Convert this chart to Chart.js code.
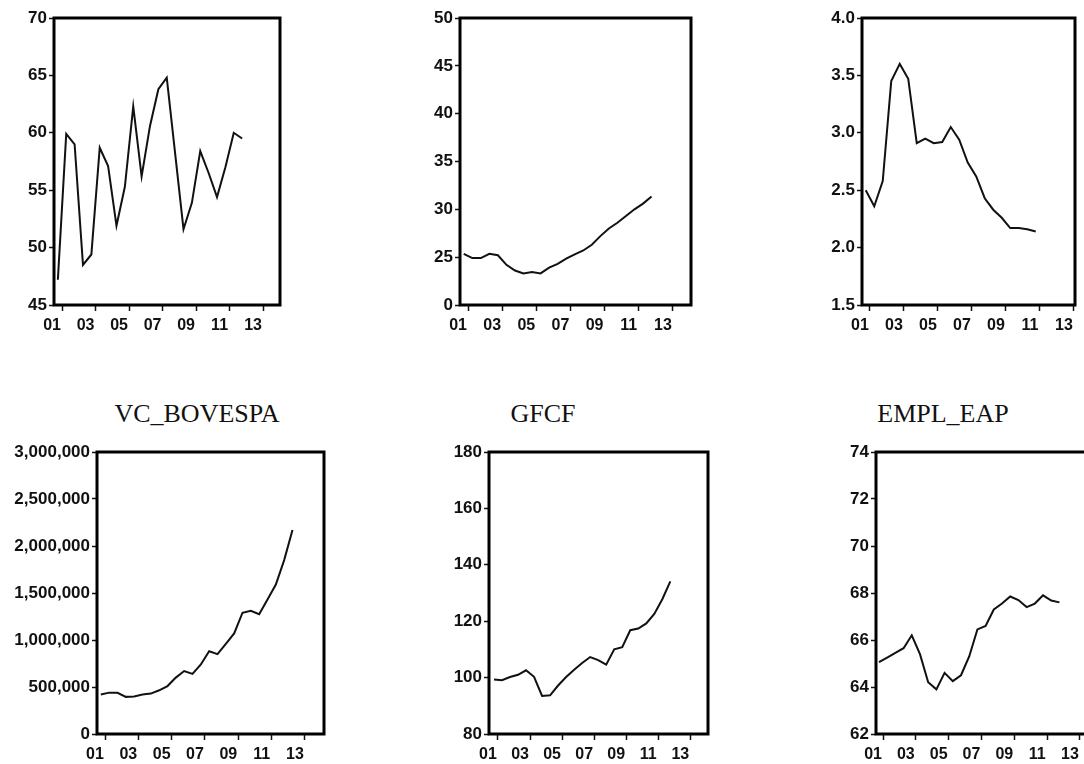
<!DOCTYPE html>
<html><head><meta charset="utf-8">
<script src="https://cdn.jsdelivr.net/npm/chart.js@4.4.1/dist/chart.umd.min.js"></script>
<style>
html,body{margin:0;padding:0;background:#fff;width:1084px;height:764px;overflow:hidden;position:relative}
canvas{position:absolute}
.title{position:absolute;font-family:"Liberation Serif","Times New Roman",serif;font-size:26px;line-height:26px;color:#111;white-space:nowrap;transform:translateX(-50%)}
</style></head><body>
<div class="title" style="left:197px;top:401px">VC_BOVESPA</div>
<div class="title" style="left:543px;top:401px">GFCF</div>
<div class="title" style="left:943px;top:401px">EMPL_EAP</div>
<script>
// ---- data ----
const dates = [2000.75, 2001.25, 2001.75, 2002.25, 2002.75, 2003.25, 2003.75, 2004.25, 2004.75, 2005.25, 2005.75, 2006.25, 2006.75, 2007.25, 2007.75, 2008.25, 2008.75, 2009.25, 2009.75, 2010.25, 2010.75, 2011.25, 2011.75, 2012.25];
const xTickValues = [2001, 2003, 2005, 2007, 2009, 2011, 2013];
const xTickLabels = ['01', '03', '05', '07', '09', '11', '13'];

const topLeftValues = [47.2, 59.9, 59.0, 48.5, 49.4, 58.7, 57.1, 51.9, 55.3, 62.3, 56.2, 60.6, 63.8, 64.8, 58.2, 51.6, 53.9, 58.4, 56.5, 54.4, 57.0, 60.0, 59.5];
const topMidValues = [25.35, 24.9, 24.9, 25.35, 25.2, 24.2, 23.6, 23.3, 23.45, 23.3, 23.9, 24.3, 24.85, 25.3, 25.7, 26.3, 27.2, 28.0, 28.6, 29.3, 30.0, 30.6, 31.35];
const topRightValues = [2.50, 2.36, 2.58, 3.45, 3.60, 3.47, 2.91, 2.95, 2.91, 2.92, 3.05, 2.94, 2.74, 2.62, 2.43, 2.33, 2.26, 2.17, 2.17, 2.16, 2.14];
const vcBovespaValues = [420000, 440000, 438000, 395000, 400000, 420000, 430000, 465000, 510000, 600000, 670000, 640000, 740000, 880000, 850000, 960000, 1070000, 1290000, 1310000, 1275000, 1430000, 1590000, 1850000, 2170000];
const gfcfValues = [99.3, 99.1, 100.2, 101.0, 102.6, 100.3, 93.5, 93.7, 97.2, 100.2, 102.8, 105.2, 107.3, 106.2, 104.6, 110.0, 110.8, 116.8, 117.4, 119.2, 122.6, 127.8, 134.1];
const emplEapValues = [65.06, 65.25, 65.45, 65.65, 66.2, 65.4, 64.2, 63.9, 64.6, 64.25, 64.5, 65.3, 66.45, 66.6, 67.3, 67.55, 67.85, 67.7, 67.4, 67.55, 67.9, 67.68, 67.6];

const topLeftTicks = [45, 50, 55, 60, 65, 70];
const topLeftTickLabels = ['45', '50', '55', '60', '65', '70'];
const topMidTicks = [20, 25, 30, 35, 40, 45, 50];
const topMidTickLabels = ['0', '25', '30', '35', '40', '45', '50'];
const topRightTicks = [1.5, 2.0, 2.5, 3.0, 3.5, 4.0];
const topRightTickLabels = ['1.5', '2.0', '2.5', '3.0', '3.5', '4.0'];
const vcBovespaTicks = [0, 500000, 1000000, 1500000, 2000000, 2500000, 3000000];
const vcBovespaTickLabels = ['0', '500,000', '1,000,000', '1,500,000', '2,000,000', '2,500,000', '3,000,000'];
const gfcfTicks = [80, 100, 120, 140, 160, 180];
const gfcfTickLabels = ['80', '100', '120', '140', '160', '180'];
const emplEapTicks = [62, 64, 66, 68, 70, 72, 74];
const emplEapTickLabels = ['62', '64', '66', '68', '70', '72', '74'];

// ---- layout ----
const panels = [
  {values: topLeftValues, yT: topLeftTicks, yL: topLeftTickLabels, box: [54, 18, 280, 305], yW: 54, xr: [2000.52, 2014.01]},
  {values: topMidValues, yT: topMidTicks, yL: topMidTickLabels, box: [460, 18, 691, 305], yW: 60, xr: [2000.53, 2014.06]},
  {values: topRightValues, yT: topRightTicks, yL: topRightTickLabels, box: [862, 18, 1075, 305], yW: 60, xr: [2000.53, 2013.06]},
  {values: vcBovespaValues, yT: vcBovespaTicks, yL: vcBovespaTickLabels, box: [97, 452, 324, 734], yW: 97, xr: [2000.52, 2014.14]},
  {values: gfcfValues, yT: gfcfTicks, yL: gfcfTickLabels, box: [489, 452, 708, 734], yW: 60, xr: [2000.44, 2014.1]},
  {values: emplEapValues, yT: emplEapTicks, yL: emplEapTickLabels, box: [876, 452, 1098, 734], yW: 60, xr: [2000.57, 2014.1]}
];

const framePlugin = {
  id: 'frame',
  afterDraw(chart) {
    const {ctx, chartArea: a} = chart;
    ctx.save();
    ctx.strokeStyle = '#000';
    ctx.lineWidth = 3;
    ctx.strokeRect(a.left, a.top, a.right - a.left, a.bottom - a.top);
    ctx.restore();
  }
};

const FONT = '"Liberation Sans", Arial, Helvetica, sans-serif';
const PAD_TOP = 14, PAD_RIGHT = 14, X_H = 40;

panels.forEach(p => {
  const [L, T, R, B] = p.box;
  const c = document.createElement('canvas');
  const w = p.yW + (R - L) + PAD_RIGHT;
  const h = PAD_TOP + (B - T) + X_H;
  c.width = w; c.height = h;
  c.style.left = (L - p.yW) + 'px';
  c.style.top = (T - PAD_TOP) + 'px';
  c.style.width = w + 'px'; c.style.height = h + 'px';
  document.body.appendChild(c);
  const pts = p.values.map((v, i) => ({x: dates[i], y: v}));
  new Chart(c, {
    type: 'line',
    data: {datasets: [{data: pts, borderColor: '#111', borderWidth: 2, pointRadius: 0, tension: 0, fill: false}]},
    options: {
      responsive: false, animation: false, devicePixelRatio: 1,
      layout: {padding: {top: PAD_TOP, right: PAD_RIGHT, left: 0, bottom: 0}},
      plugins: {legend: {display: false}, tooltip: {enabled: false}, title: {display: false}},
      scales: {
        x: {
          type: 'linear', position: 'bottom', min: p.xr[0], max: p.xr[1],
          afterBuildTicks: s => { s.ticks = xTickValues.map(v => ({value: v})); },
          afterFit: s => { s.height = X_H; s.paddingLeft = 0; s.paddingRight = 0; },
          border: {display: false},
          grid: {display: true, drawOnChartArea: false, drawTicks: true, tickLength: 6, tickColor: '#111', tickWidth: 1.5, color: '#111'},
          ticks: {autoSkip: false, maxRotation: 0, padding: 5, labelOffset: -10, color: '#111', font: {family: FONT, size: 16, weight: 'bold'},
                  callback: (v, i) => xTickLabels[i]}
        },
        y: {
          type: 'linear', min: p.yT[0], max: p.yT[p.yT.length - 1],
          afterBuildTicks: s => { s.ticks = p.yT.map(v => ({value: v})); },
          afterFit: s => { s.width = p.yW; s.paddingTop = 0; s.paddingBottom = 0; },
          border: {display: false},
          grid: {display: true, drawOnChartArea: false, drawTicks: true, tickLength: 5, tickColor: '#111', tickWidth: 1.5, color: '#111'},
          ticks: {autoSkip: false, padding: 2, color: '#111', font: {family: FONT, size: 17, weight: 'bold'},
                  callback: (v, i) => p.yL[i]}
        }
      }
    },
    plugins: [framePlugin]
  });
});
</script>
</body></html>
